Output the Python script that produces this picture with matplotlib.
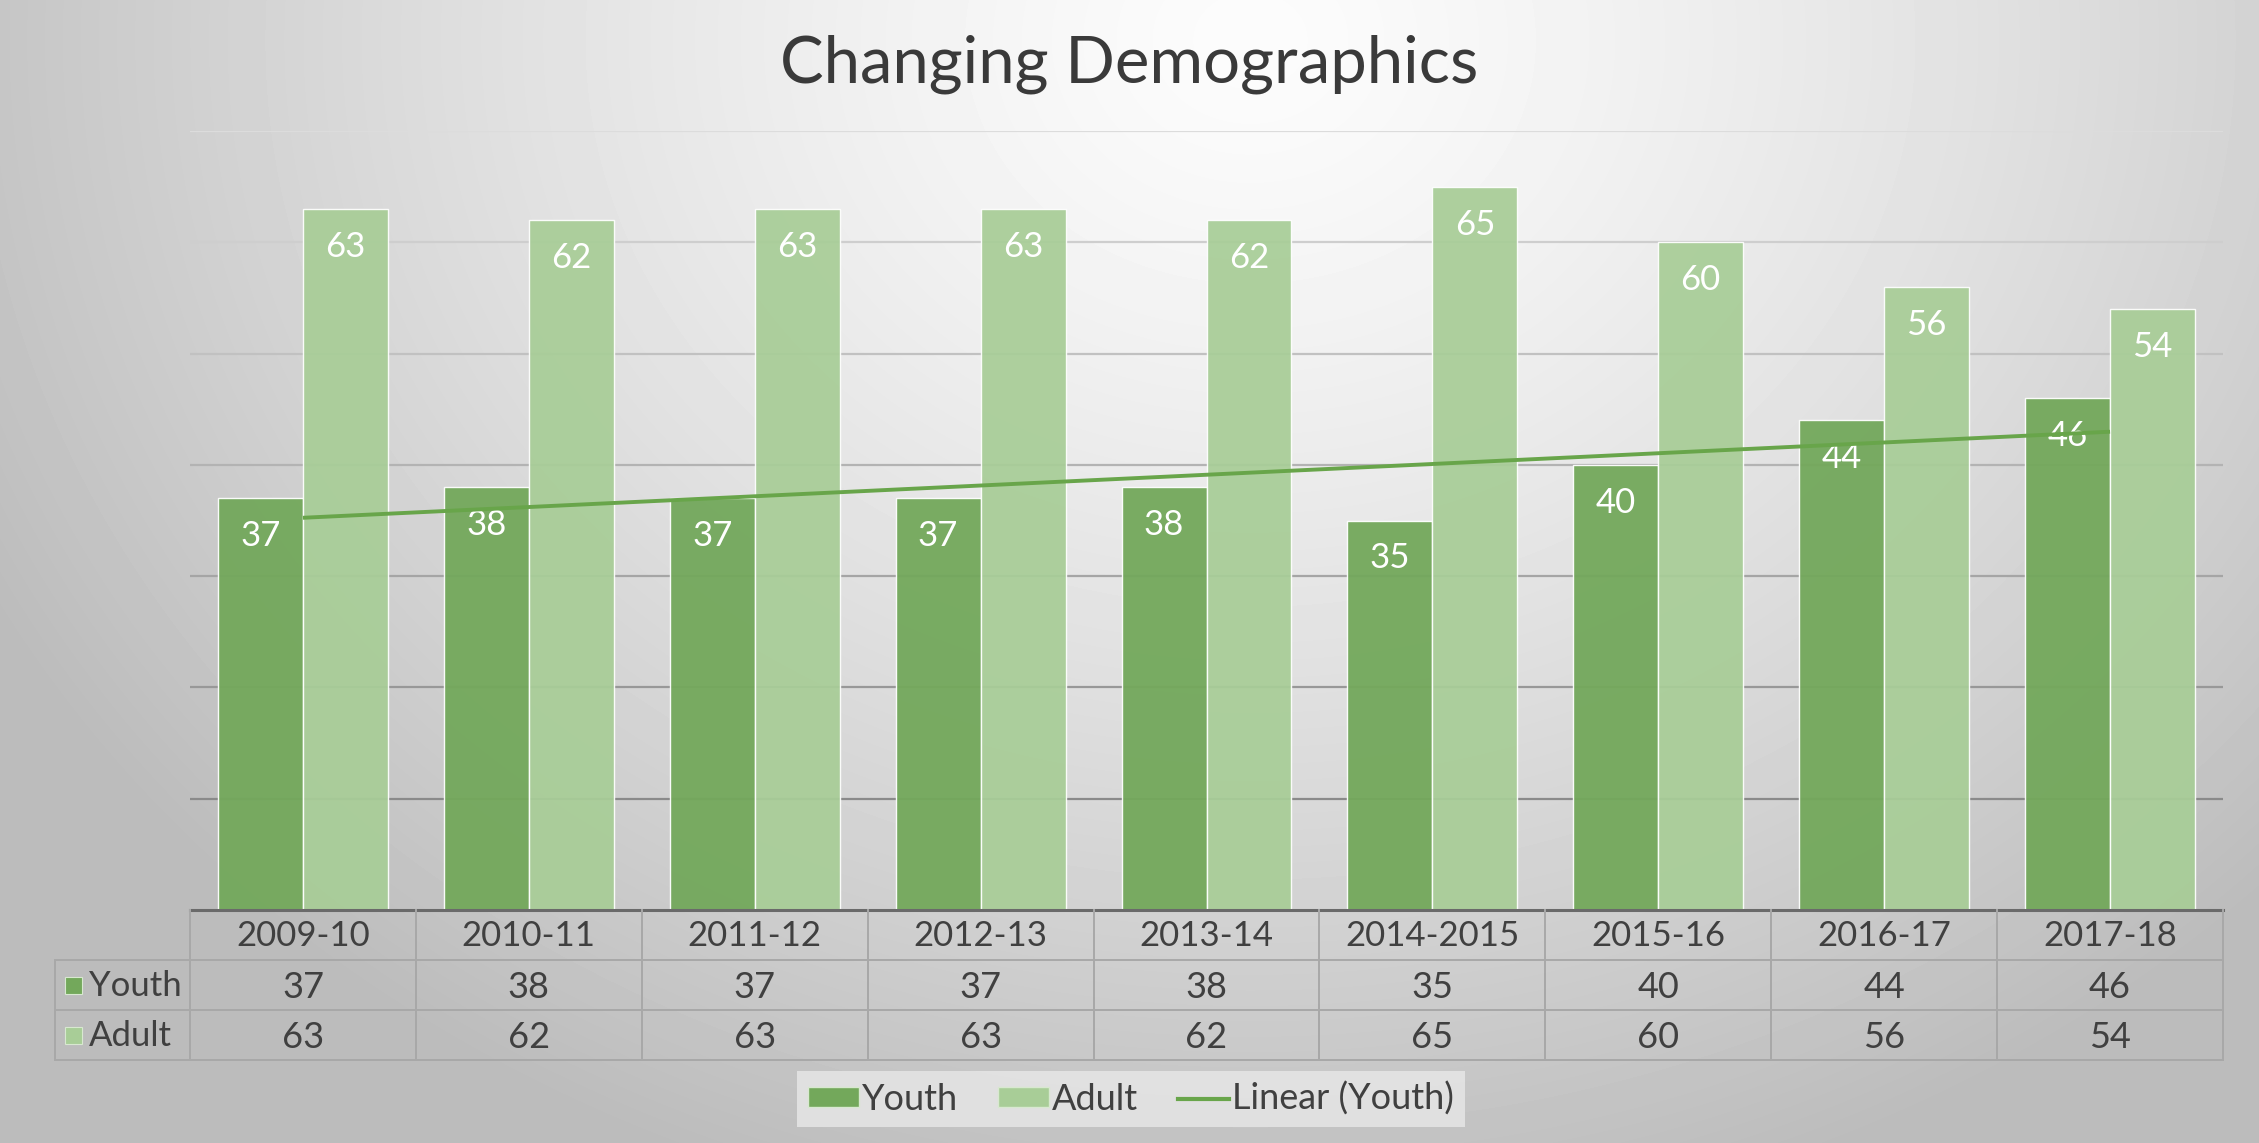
import numpy as np
import matplotlib
matplotlib.use("Agg")
import matplotlib.pyplot as plt
from matplotlib.patches import Patch
from matplotlib.lines import Line2D

plt.rcParams['font.family'] = ['Lato', 'DejaVu Sans']

# data
years = ['2009-10', '2010-11', '2011-12', '2012-13', '2013-14',
         '2014-2015', '2015-16', '2016-17', '2017-18']
youth = [37, 38, 37, 37, 38, 35, 40, 44, 46]
adult = [63, 62, 63, 63, 62, 65, 60, 56, 54]
series_names = ['Youth', 'Adult']

youth_col = '#73a85b'
adult_col = '#a8cd97'
trend_col = '#68a54a'
text_col = '#404040'

W, H = 2259, 1143
fig = plt.figure(figsize=(W / 100, H / 100), dpi=100)

# radial grey background like the excel style
yy, xx = np.mgrid[0:H, 0:W]
r = np.sqrt(((xx - 1250) / 1350.0) ** 2 + ((yy - 40) / 1150.0) ** 2)
shade = np.clip(252 - 60 * r ** 1.3, 188, 255) / 255.0
bg = fig.add_axes([0, 0, 1, 1], zorder=-10)
bg.imshow(shade, cmap='gray', vmin=0, vmax=1, extent=[0, 1, 0, 1],
          aspect='auto', origin='upper', interpolation='bilinear')
bg.axis('off')

# main plot
ax = fig.add_axes([190 / W, 1 - 910 / H, (2223 - 190) / W, (910 - 131) / H])
ax.set_facecolor('none')
x = np.arange(len(years))
bw = 0.376
ax.set_xlim(-0.5, len(years) - 0.5)
ax.set_ylim(0, 70)

# gridlines, lighter at the top
grid_vals = np.arange(10, 71, 10)
for g in grid_vals:
    t = (g - 10) / 60.0
    c = 0x8a + t * (0xdc - 0x8a)
    ax.axhline(g, color=(c / 255, c / 255, c / 255), lw=1.6, zorder=1)

ax.bar(x - bw / 2, youth, bw, color=youth_col, alpha=0.95,
       edgecolor=(1, 1, 1, 0.7), linewidth=1.0, zorder=2)
ax.bar(x + bw / 2, adult, bw, color=adult_col, alpha=0.93,
       edgecolor=(1, 1, 1, 0.7), linewidth=1.0, zorder=2)

for i in range(len(years)):
    ax.annotate(str(youth[i]), (x[i] - bw / 2, youth[i]), xytext=(0, -34.5),
                textcoords='offset points', ha='center', va='baseline',
                color='white', fontsize=25, zorder=3)
    ax.annotate(str(adult[i]), (x[i] + bw / 2, adult[i]), xytext=(0, -34.5),
                textcoords='offset points', ha='center', va='baseline',
                color='white', fontsize=25, zorder=3)

# linear trendline of youth
coef = np.polyfit(x + 1, youth, 1)
ax.plot(x, np.polyval(coef, x + 1), color=trend_col, lw=2.8, zorder=4,
        solid_capstyle='butt')

for s in ax.spines.values():
    s.set_visible(False)
ax.set_xticks([])
ax.set_yticks([])

# data table under the chart
lab_w = (190 - 55) / 225.9
tx = fig.add_axes([55 / W, 1 - 1060 / H, (2223 - 55) / W, (1060 - 910) / H])
tx.set_facecolor('none')
tx.set_xlim(-0.5 - lab_w, len(years) - 0.5)
tx.set_ylim(0, 3)
tx.axis('off')
line_c = '#a8a8a8'
left = -0.5 - lab_w
right = len(years) - 0.5
tx.plot([-0.5, right], [3, 3], color='#6a6a6a', lw=2.2, clip_on=False)
for yv in [2, 1, 0]:
    tx.plot([left, right], [yv, yv], color=line_c, lw=1.4, clip_on=False)
tx.plot([left, left], [0, 2], color=line_c, lw=1.4, clip_on=False)
for k in range(len(years) + 1):
    tx.plot([k - 0.5, k - 0.5], [0, 3], color=line_c, lw=1.4, clip_on=False)

for i, yr in enumerate(years):
    tx.text(i, 2.47, yr, ha='center', va='center', fontsize=25, color=text_col)
    tx.text(i, 1.45, str(youth[i]), ha='center', va='center', fontsize=26, color=text_col)
    tx.text(i, 0.45, str(adult[i]), ha='center', va='center', fontsize=26, color=text_col)

for row, name, col in [(1.5, series_names[0], youth_col), (0.5, series_names[1], adult_col)]:
    tx.add_patch(plt.Rectangle((left + 0.045, row - 0.17), 0.075, 0.34,
                               facecolor=col, edgecolor='#d8e8d0', lw=0.8, clip_on=False))
    tx.text(left + 0.15, row - 0.03, name, ha='left', va='center', fontsize=25, color=text_col)

# title
fig.text(0.5, 1 - 82 / H, 'Changing Demographics', ha='center', va='baseline',
         fontsize=47, color='#3a3a3a')

# legend
handles = [Patch(facecolor=youth_col, edgecolor='#d8e8d0', label='Youth'),
           Patch(facecolor=adult_col, edgecolor='#d8e8d0', label='Adult'),
           Line2D([], [], color=trend_col, lw=3, label='Linear (Youth)')]
leg = fig.legend(handles=handles, loc='center', bbox_to_anchor=(0.5007, 0.0385),
                 ncol=3, fontsize=26, frameon=True, fancybox=False,
                 facecolor='#e4e4e4', edgecolor='none', framealpha=0.9,
                 handlelength=1.4, handleheight=0.45, handletextpad=0.1,
                 columnspacing=1.1, borderpad=0.3, borderaxespad=0)
for t in leg.get_texts():
    t.set_color(text_col)

fig.savefig('out.png', dpi=100)
